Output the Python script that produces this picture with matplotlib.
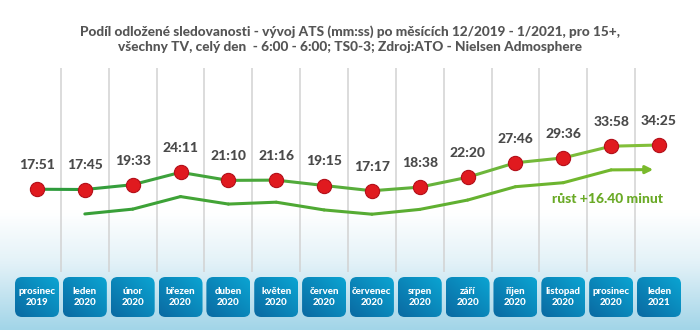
import numpy as np
import matplotlib.pyplot as plt
from matplotlib.patches import FancyBboxPatch
from matplotlib.collections import LineCollection
from matplotlib.colors import to_rgb

plt.rcParams['font.family'] = ['Lato', 'DejaVu Sans']

# data
months = ['prosinec', 'leden', 'únor', 'březen', 'duben', 'květen', 'červen',
          'červenec', 'srpen', 'září', 'říjen', 'listopad', 'prosinec', 'leden']
years = ['2019', '2020', '2020', '2020', '2020', '2020', '2020',
         '2020', '2020', '2020', '2020', '2020', '2020', '2021']
ats_labels = ['17:51', '17:45', '19:33', '24:11', '21:10', '21:16', '19:15',
              '17:17', '18:38', '22:20', '27:46', '29:36', '33:58', '34:25']
ats = [int(s.split(':')[0]) + int(s.split(':')[1]) / 60 for s in ats_labels]

# lower trend line (same scale)
trend_x = [1, 2, 3, 4, 5, 6, 7, 8, 9, 10, 11, 12]
trend_y = [8.6, 10.4, 15.1, 12.3, 13.0, 10.1, 8.5, 10.3, 13.8, 18.8, 20.3, 25.1]
arrow_end = (12.88, 25.2)
growth_text = 'růst +16.40 minut'

title = ('Podíl odložené sledovanosti - vývoj ATS (mm:ss) po měsících 12/2019 - 1/2021, pro 15+,\n'
         'všechny TV, celý den  - 6:00 - 6:00; TS0-3; Zdroj:ATO - Nielsen Admosphere')

# layout helpers (pixel rows -> data y)
W, H = 700, 330
step = 47.85
slope = 2.67


def ypx(p):
    return 34.42 - (p - 145) / slope


fig = plt.figure(figsize=(7, 3.3), dpi=100)
ax = fig.add_axes([0, 0, 1, 1])
ax.axis('off')
x0, x1 = -37 / step, 13 + (W - 659) / step
y0, y1 = ypx(H), ypx(0)

# background gradient
rows = np.linspace(0, H, 200)
c_top = np.array(to_rgb('#ffffff'))
c_mid = np.array(to_rgb('#e4f2f8'))
c_bot = np.array(to_rgb('#a2d5e8'))
bg = np.zeros((200, 1, 3))
for i, r in enumerate(rows):
    if r < 212:
        c = c_top
    elif r < 262:
        t = (r - 212) / 50
        c = c_top * (1 - t) + c_mid * t
    else:
        t = (r - 262) / 68
        c = c_mid * (1 - t) + c_bot * t
    bg[i, 0] = c
ax.imshow(bg, extent=[x0, x1, y0, y1], aspect='auto', zorder=0)

# separators
ax.vlines(np.arange(13) + 0.5, ypx(272), ypx(68), color='#d2d2d2', lw=1.1, zorder=1)


def grad_line(xs, ys, c0, c1, lw):
    pts = np.column_stack([xs, ys])
    segs = np.stack([pts[:-1], pts[1:]], axis=1)
    a, b = np.array(to_rgb(c0)), np.array(to_rgb(c1))
    cols = [a * (1 - m / 13) + b * (m / 13) for m in segs[:, :, 0].mean(axis=1)]
    lc = LineCollection(segs, colors=cols, linewidths=lw, capstyle='round',
                        joinstyle='round', zorder=3)
    ax.add_collection(lc)


x = np.arange(len(ats))
grad_line(x, ats, '#2a9a3c', '#86c03a', 2.2)
grad_line(trend_x + [arrow_end[0] - 0.12], trend_y + [arrow_end[1]], '#2f9c3a', '#7aba2c', 2.2)
ax.annotate('', xy=arrow_end, xytext=(arrow_end[0] - 0.2, arrow_end[1]),
            arrowprops=dict(arrowstyle='-|>', color='#7aba2c', lw=2.2,
                            mutation_scale=11, shrinkA=0, shrinkB=0), zorder=3)

ax.scatter(x, ats, s=105, color='#e01a1f', edgecolor='#b3101a', linewidth=0.8, zorder=4)
for xi, yi, lab in zip(x, ats, ats_labels):
    ax.annotate(lab, (xi, yi), xytext=(0, 13), textcoords='offset points',
                ha='center', va='bottom', fontsize=10, fontweight='black', color='#4a4a4a')

ax.text(13 + 4 / step, ypx(199), growth_text, ha='right', va='center',
        fontsize=10, fontweight='black', color='#6aaa26')

# month boxes
gx, gy = np.meshgrid(np.linspace(0, 1, 30), np.linspace(0, 1, 30))
t = (gx + (1 - gy)) / 2
dark, light = np.array(to_rgb('#0a6aa2')), np.array(to_rgb('#0ba4d2'))
box_img = dark * (1 - t[..., None]) + light * t[..., None]
bw = 44 / step
for xi, m, yr in zip(x, months, years):
    patch = FancyBboxPatch((xi - bw / 2, ypx(317)), bw, ypx(277) - ypx(317),
                           boxstyle='round,pad=0,rounding_size=%f' % (7 / step),
                           mutation_aspect=step / slope, facecolor='none',
                           edgecolor='none', zorder=5)
    ax.add_patch(patch)
    im = ax.imshow(box_img, extent=[xi - bw / 2, xi + bw / 2, ypx(317), ypx(277)],
                   aspect='auto', zorder=5)
    im.set_clip_path(patch)
    ax.text(xi, ypx(292), m, ha='center', va='center', fontsize=7,
            fontweight='black', color='white', zorder=6)
    ax.text(xi, ypx(302.5), yr, ha='center', va='center', fontsize=7,
            fontweight='black', color='white', zorder=6)

fig.text(0.5, 1 - 39 / H, title, ha='center', va='center', fontsize=9.8,
         fontweight='black', color='#555555', linespacing=1.25)

ax.set_xlim(x0, x1)
ax.set_ylim(y0, y1)
fig.savefig('out.png', dpi=100)
